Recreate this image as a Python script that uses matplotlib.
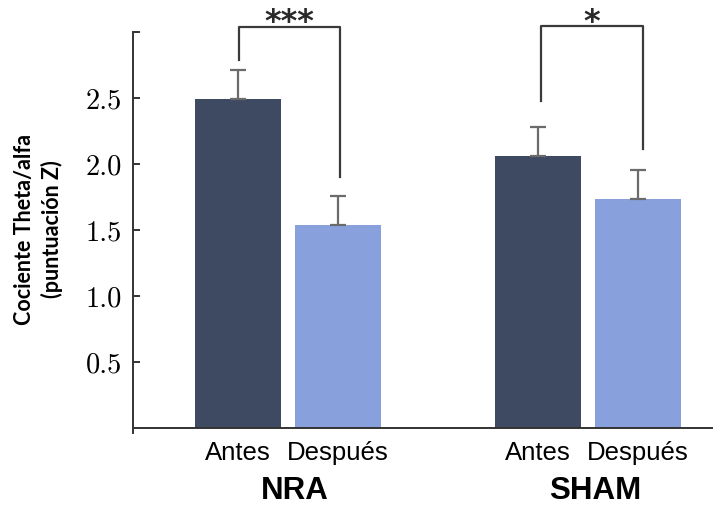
import matplotlib
matplotlib.use("Agg")
import matplotlib.pyplot as plt
import matplotlib.transforms as mtransforms
import numpy as np

# ---------------------------------------------------------------- data

groups = ["NRA", "SHAM"]
conditions = ["Antes", "Después"]
x_pos = [0, 1, 3, 4]
means = [2.49, 1.54, 2.06, 1.735]
err_up = [0.22, 0.22, 0.22, 0.22]
colors = ["#3d4a62", "#88a1dc", "#3d4a62", "#88a1dc"]
yticks = [0.5, 1.0, 1.5, 2.0, 2.5, 3.0]
ytick_labels = ["0.5", "1.0", "1.5", "2.0", "2.5", ""]

# brackets: (x left, x right, y left end, y right end, y top, label)
brackets = [
    (0.01, 1.02, 2.79, 1.90, 3.04, "***"),
    (3.03, 4.05, 2.48, 2.11, 3.045, "*"),
]

# ---------------------------------------------------------------- figure

fig = plt.figure(figsize=(7.13, 5.07), dpi=100)
ax = fig.add_axes([133 / 713, 0.1454, 1 - 133 / 713, 0.9369 - 0.1454])

ax.bar(x_pos, means, width=0.86, color=colors, zorder=2)
ax.errorbar(x_pos, means, yerr=[np.zeros(len(err_up)), err_up], fmt="none",
            ecolor="#6b6b6b", elinewidth=1.6, capsize=6, capthick=1.6, zorder=3)

star_tr = mtransforms.blended_transform_factory(ax.transData, fig.transFigure)
for xl, xr, yl, yr, yt, lab in brackets:
    ax.plot([xl, xl, xr, xr], [yl, yt, yt, yr], color="#3a3a3a", lw=1.6,
            clip_on=False, zorder=4)
    ax.text((xl + xr) / 2, 1 - 7 / 507, lab, transform=star_tr, ha="center", va="top",
            fontsize=23, fontweight="bold", color="#2a2a2a", fontfamily="DejaVu Sans",
            clip_on=False)

ax.set_xlim(-1.05, 4.75)
ax.set_ylim(-0.04, 3.0)

ax.spines["top"].set_visible(False)
ax.spines["right"].set_visible(False)
ax.spines["bottom"].set_position(("data", 0))
for s in ("left", "bottom"):
    ax.spines[s].set_linewidth(1.4)
    ax.spines[s].set_color("#333333")

ax.set_yticks(yticks)
ax.set_yticklabels(ytick_labels, fontfamily="cmr10", fontsize=20.5)
ax.tick_params(axis="y", direction="in", length=5, width=1.4, color="#333333", pad=8)

ax.set_xticks(x_pos)
ax.set_xticklabels(conditions * 2, fontfamily="Liberation Sans", fontsize=18.5)
ax.tick_params(axis="x", length=0, pad=9)

for i, g in enumerate(groups):
    ax.text((x_pos[2 * i] + x_pos[2 * i + 1]) / 2 + 0.07, -0.535, g,
            ha="center", va="baseline", fontsize=22.5, fontweight="bold",
            fontfamily="Liberation Sans")

fig.text(0.034, 0.548, "Cociente Theta/alfa", rotation=90, ha="center", va="center",
         fontsize=15.5, fontweight="bold", fontfamily="Lato")
fig.text(0.073, 0.548, "(puntuación Z)", rotation=90, ha="center", va="center",
         fontsize=15.5, fontweight="bold", fontfamily="Lato")

fig.savefig("out.png", dpi=100)
